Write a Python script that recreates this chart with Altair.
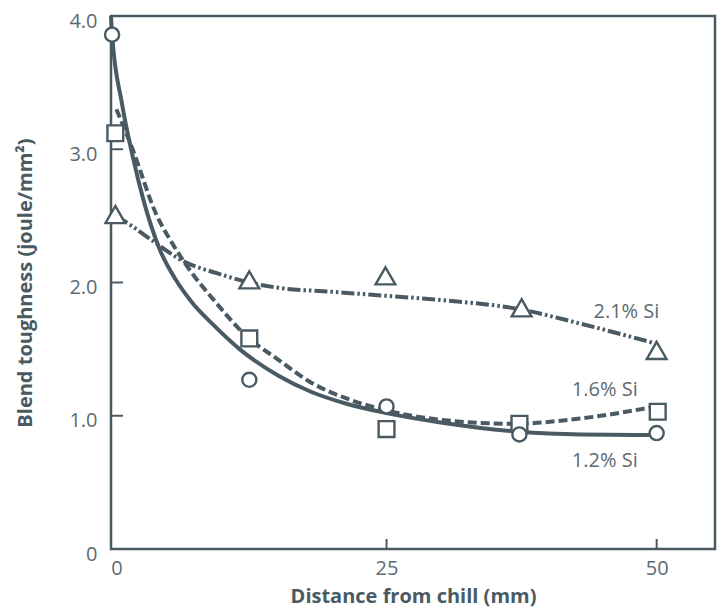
import altair as alt
import pandas as pd

# ---------------- data ----------------
series_names = ["1.2% Si", "1.6% Si", "2.1% Si"]

# measured points (distance from chill in mm, blend toughness in joule/mm^2)
x_12 = [-0.4, 12.3, 25.0, 37.3, 50.0]
y_12 = [3.86, 1.27, 1.07, 0.86, 0.87]
x_16 = [-0.1, 12.3, 25.0, 37.3, 50.1]
y_16 = [3.12, 1.58, 0.90, 0.94, 1.03]
x_21 = [-0.1, 12.3, 24.9, 37.5, 50.0]
y_21 = [2.51, 2.02, 2.05, 1.81, 1.49]

# fitted curves
cx_12 = [-0.5, -0.4, 0.5, 1.5, 2.5, 4.0, 5.5, 7.0, 9.0, 11.4, 15.0, 18.0, 21.3, 25.0, 30.0, 37.3, 43.0, 50.0]
cy_12 = [4.00, 3.86, 3.35, 2.95, 2.62, 2.25, 2.02, 1.85, 1.68, 1.50, 1.30, 1.18, 1.09, 1.02, 0.95, 0.88, 0.86, 0.855]
cx_16 = [0.0, 1.5, 3.7, 5.2, 7.0, 9.0, 12.0, 15.0, 18.0, 21.3, 25.0, 30.0, 36.7, 43.0, 50.0]
cy_16 = [3.30, 3.00, 2.51, 2.29, 2.07, 1.87, 1.60, 1.42, 1.25, 1.13, 1.04, 0.97, 0.94, 0.98, 1.07]
cx_21 = [0.0, 1.5, 3.4, 6.2, 9.3, 12.3, 15.0, 20.0, 25.0, 30.6, 37.3, 43.0, 50.0]
cy_21 = [2.50, 2.42, 2.31, 2.16, 2.07, 2.00, 1.96, 1.93, 1.90, 1.865, 1.80, 1.69, 1.54]

# series label anchors (data coordinates)
label_x = [45.2, 45.2, 47.2]
label_y = [0.66, 1.19, 1.78]

x_ticks = [0, 25, 50]
y_ticks = [0, 1, 2, 3, 4]
x_inner_ticks = [25, 50]
y_inner_ticks = [1, 2, 3]

# ---------------- styling ----------------
C = "#4a5a63"
LABEL_C = "#5d6a72"
FONT = "Open Sans"
W, H = 604, 533

xscale = alt.Scale(domain=[-0.5, 55.4], nice=False, zero=False)
yscale = alt.Scale(domain=[0, 4.0], nice=False, zero=True)

xaxis = alt.Axis(values=x_ticks, format="d", title="Distance from chill (mm)",
                 ticks=False, domain=False, grid=False, labelFontSize=20,
                 labelColor=LABEL_C, labelPadding=9, labelFont=FONT,
                 titleFont=FONT, titleFontSize=20, titleFontWeight="bold",
                 titleColor=C, titlePadding=8)
yaxis = alt.Axis(values=y_ticks, title="Blend toughness (joule/mm²)",
                 labelExpr="datum.value == 0 ? '0' : format(datum.value, '.1f')",
                 ticks=False, domain=False, grid=False, labelFontSize=20,
                 labelColor=LABEL_C, labelPadding=14, labelFont=FONT,
                 labelOffset=5,
                 titleFont=FONT, titleFontSize=20, titleFontWeight="bold",
                 titleColor=C, titlePadding=33)


def X(f="x"):
    return alt.X(f"{f}:Q", scale=xscale, axis=xaxis)


def Y(f="y"):
    return alt.Y(f"{f}:Q", scale=yscale, axis=yaxis)


def curve_df(xs, ys):
    return pd.DataFrame({"x": xs, "y": ys, "o": list(range(len(xs)))})


def pts_df(xs, ys):
    return pd.DataFrame({"x": xs, "y": ys})


LW = 4
line12 = alt.Chart(curve_df(cx_12, cy_12)).mark_line(
    color=C, strokeWidth=LW, interpolate="monotone").encode(
    x=X(), y=Y(), order="o:Q")
line16 = alt.Chart(curve_df(cx_16, cy_16)).mark_line(
    color=C, strokeWidth=LW, strokeDash=[9, 4], interpolate="monotone").encode(
    x=X(), y=Y(), order="o:Q")
line21 = alt.Chart(curve_df(cx_21, cy_21)).mark_line(
    color=C, strokeWidth=LW, strokeDash=[13, 3, 2.5, 3, 2.5, 3],
    interpolate="monotone").encode(x=X(), y=Y(), order="o:Q")

pt_style = dict(fill="white", stroke=C, strokeWidth=2.4, opacity=1,
                fillOpacity=1, strokeOpacity=1)
p12 = alt.Chart(pts_df(x_12, y_12)).mark_point(
    shape="circle", size=200, **pt_style).encode(x=X(), y=Y())
p16 = alt.Chart(pts_df(x_16, y_16)).mark_point(
    shape="square", size=250, **pt_style).encode(x=X(), y=Y())
p21 = alt.Chart(pts_df(x_21, y_21)).mark_point(
    shape="triangle-up", size=390, **pt_style).encode(x=X(), y=Y())

labels = alt.Chart(pd.DataFrame({"x": label_x, "y": label_y, "t": series_names})).mark_text(
    font=FONT, fontSize=20, color=LABEL_C, align="center", baseline="middle").encode(
    x=X(), y=Y(), text="t:N")

ytick_rules = alt.Chart(pd.DataFrame({"y": y_inner_ticks})).mark_rule(
    color=C, strokeWidth=2).encode(y=Y(), x=alt.value(0), x2=alt.value(12))
xtick_rules = alt.Chart(pd.DataFrame({"x": x_inner_ticks})).mark_rule(
    color=C, strokeWidth=2).encode(x=X(), y=alt.value(H), y2=alt.value(H - 10))

chart = alt.layer(
    ytick_rules, xtick_rules, line21, line16, line12, p21, p16, p12, labels
).properties(
    width=W, height=H,
    background="white",
    padding={"left": 111, "top": 16, "right": 3, "bottom": 60},
    autosize=alt.AutoSizeParams(type="none"),
).configure_view(
    stroke=C, strokeWidth=2.5
)

chart.save("out.html", embed_options={"renderer": "svg", "actions": False})
